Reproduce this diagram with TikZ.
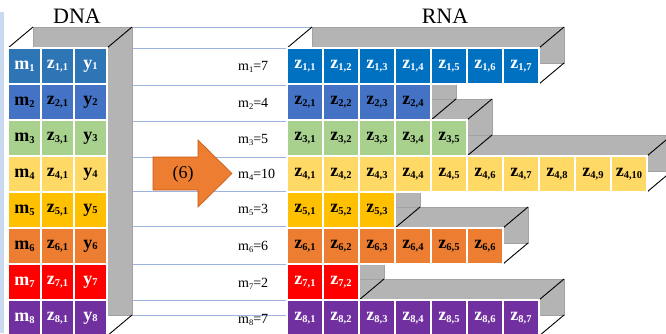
\documentclass[tikz,border=0pt]{standalone}
\usepackage{fontspec}
\setmainfont{Liberation Serif}
\definecolor{dnaA}{HTML}{2E75B6}
\definecolor{rowA}{HTML}{0070C0}
\definecolor{rowB}{HTML}{4472C4}
\definecolor{rowC}{HTML}{A9D18E}
\definecolor{rowD}{HTML}{FFD966}
\definecolor{rowE}{HTML}{FFC000}
\definecolor{rowF}{HTML}{ED7D31}
\definecolor{rowG}{HTML}{FF0000}
\definecolor{rowH}{HTML}{7030A0}
\definecolor{boxgray}{HTML}{B4B4B4}
\definecolor{boxline}{HTML}{A2A2A2}
\definecolor{guide}{HTML}{9DB4E0}
\definecolor{band}{HTML}{C9D9F0}
\definecolor{arrowfill}{HTML}{ED7D31}
\definecolor{arrowline}{HTML}{C55A11}
\newcommand\mysub[1]{\raisebox{-1.8pt}{\fontsize{10.5}{11}\selectfont #1}}
\newcommand\midsub[1]{\raisebox{-1.5pt}{\fontsize{8.5}{9}\selectfont #1}}
\tikzset{
  backface/.style={fill=boxgray, draw=boxline, line width=0.5pt},
  edgeline/.style={draw=black, line width=0.9pt},
  cell/.style={rectangle, draw=white, line width=1.2pt, inner sep=0pt,
    minimum width=36pt, minimum height=36pt,
    font=\fontsize{18}{20}\selectfont\bfseries},
  dcell/.style={cell, minimum width=33pt},
  guideline/.style={draw=guide, line width=0.7pt},
  midlabel/.style={anchor=west, inner sep=0pt, font=\fontsize{14}{16}\selectfont},
  title/.style={inner sep=0pt, font=\fontsize{22}{24}\selectfont}
}
\begin{document}
\begin{tikzpicture}[x=1pt,y=-1pt]
\useasboundingbox (0,0) rectangle (666,333);
\clip (0,0) rectangle (666,333);
\fill[white] (0,0) rectangle (666,333);
% left band
\fill[band] (0,12) rectangle (3.5,333);
% titles
\node[title] (dnatitle) at (77,16) {DNA};
\node[title] (rnatitle) at (445,16) {RNA};
% guide lines
\draw[guideline] (132,27) -- (312,27);
\foreach \yy in {48,85,121,157,191,226,264,300,315}{
  \draw[guideline] (132,\yy) -- (287,\yy);
}
% DNA box
\draw[backface] (33,27) rectangle (132,315);
\draw[edgeline] (8,48) -- (33,27);
\draw[edgeline] (107,48) -- (132,27);
\draw[edgeline] (107,336) -- (132,315);
% RNA back faces
\foreach \r/\n in {1/7,2/4,3/5,4/10,5/3,6/6,7/2,8/7}{
  \draw[backface] (312,{48+36*\r-57}) rectangle ({312+36*\n},{48+36*\r-21});
}
% RNA edges
\foreach \r/\n in {1/7,2/4,3/5,4/10,5/3,6/6,7/2,8/7}{
  \draw[edgeline] (287,{48+36*\r-36}) -- ++(25,-21);
  \draw[edgeline] ({287+36*\n},{48+36*\r-36}) -- ++(25,-21);
  \draw[edgeline] ({287+36*\n},{48+36*\r}) -- ++(25,-21);
}
% DNA cells
\foreach \r/\c/\t in {1/dnaA/white,2/rowB/black,3/rowC/black,4/rowD/black,5/rowE/black,6/rowF/black,7/rowG/white,8/rowH/white}{
  \node[dcell, fill=\c, text=\t] (dm\r) at (24.5,{48+36*\r-18}) {m\mysub{\r}};
  \node[dcell, fill=\c, text=\t] (dz\r) at (57.5,{48+36*\r-18}) {z\mysub{\r,1}};
  \node[dcell, fill=\c, text=\t] (dy\r) at (90.5,{48+36*\r-18}) {y\mysub{\r}};
}
% RNA cells
\foreach \r/\n/\c/\t in {1/7/rowA/white,2/4/rowB/black,3/5/rowC/black,4/10/rowD/black,5/3/rowE/black,6/6/rowF/black,7/2/rowG/white,8/7/rowH/white}{
  \foreach \k in {1,...,\n}{
    \node[cell, fill=\c, text=\t] (z\r-\k) at ({287+36*\k-18},{48+36*\r-18}) {z\mysub{\r,\k}};
  }
}
% middle labels
\foreach \r/\v/\yy in {1/7/67,2/4/104,3/5/140,4/10/175,5/3/210,6/6/247,7/2/284,8/7/320}{
  \node[midlabel] (lab\r) at (238,\yy) {m\midsub{\r}=\v};
}
% arrow
\draw[fill=arrowfill, draw=arrowline, line width=0.6pt]
  (153,157) -- (198,157) -- (198,140) -- (232,173.5) -- (198,207) -- (198,190) -- (153,190) -- cycle;
\node[inner sep=0pt, font=\fontsize{18}{20}\selectfont] (six) at (183,174) {(6)};
\end{tikzpicture}
\end{document}
